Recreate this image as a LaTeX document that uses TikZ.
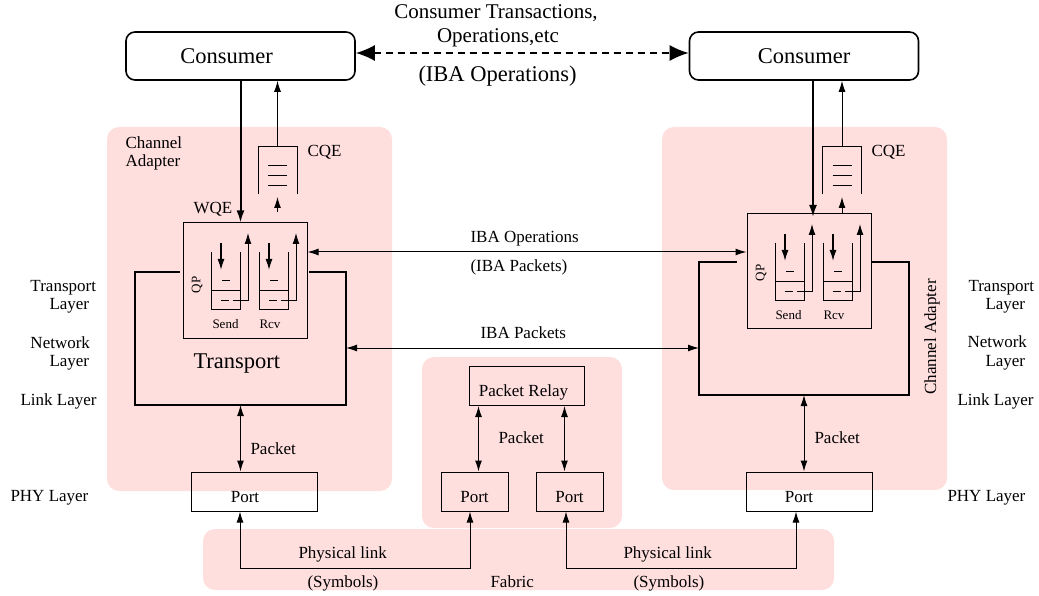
\documentclass[tikz,border=0pt]{standalone}
\usepackage{fontspec}
\setmainfont{Liberation Serif}
\usetikzlibrary{arrows.meta,calc,positioning}
\definecolor{pinkbg}{RGB}{255,222,222}
\tikzset{
    region/.style={
        fill=pinkbg,
        rounded corners=12pt,
    },
    consumer/.style={
        draw,
        rounded corners=9pt,
        line width=1.6pt,
        minimum width=229pt,
        minimum height=48pt,
        inner sep=0pt,
        font=\fontsize{22.5}{24}\selectfont,
    },
    toplbl/.style={inner sep=0pt, font=\fontsize{21}{22}\selectfont},
    big/.style={inner sep=0pt, font=\fontsize{22.5}{24}\selectfont},
    lbl/.style={inner sep=0pt, font=\fontsize{17}{18}\selectfont},
    small/.style={inner sep=0pt, font=\fontsize{13}{14}\selectfont},
    port/.style={
        draw,
        line width=1pt,
        inner sep=0pt,
        minimum width=126pt,
        minimum height=39pt,
        text height=21pt,
        text depth=0pt,
        font=\fontsize{17}{18}\selectfont,
    },
    qpbox/.style={draw, line width=1pt, inner sep=0pt, minimum width=124pt, minimum height=115pt},
    holder/.style={inner sep=0pt, outer sep=0pt},
    heavy/.style={line width=2pt, >={Latex[length=12pt,width=8pt]}},
    bigarrow/.style={
        {Latex[length=19pt,width=16pt]}-{Latex[length=19pt,width=16pt]},
        line width=1.8pt,
        dash pattern=on 7pt off 5pt,
    },
}

\begin{document}
\begin{tikzpicture}[x=1pt,y=-1pt,>={Latex[length=11pt,width=7pt]},line width=1pt]
    \useasboundingbox (0,0) rectangle (1039,596);
    % shaded areas
    \fill[region] (107,127) rectangle (392,491);
    \fill[region] (662,127) rectangle (947,490);
    \fill[region] (422,357) rectangle (622,528);
    \fill[region] (203,529) rectangle (834,590);

    % consumers
    \node[consumer] (consL) at (240.5,56) {Consumer\hspace*{28pt}};
    \node[consumer] (consR) at (804,56) {Consumer};
    \draw[bigarrow] ($(consL.east)+(0,-3)$) -- ($(consR.west)+(0,-3)$);
    \node[toplbl, anchor=base] (ctxt) at (496,19) {Consumer Transactions,};
    \node[toplbl, anchor=base] (otxt) at (498,43) {Operations,etc};
    \node[big, anchor=base west] (ibatxt) at (418,82) {(IBA Operations)};

    % left channel adapter
    \node[lbl, align=left, anchor=base west] (caL) at (125,167) {Channel\\Adapter};
    \node[qpbox] (qpL) at (245,280.5) {};
    \node[holder, minimum width=39pt, minimum height=47pt] (cqeL) at (277.5,170.5) {};
    \node[holder, minimum width=211pt, minimum height=133pt] (trL) at (240.5,338.5) {};
    \node[lbl, anchor=base west] (cqeLtxt) at (307,157) {CQE};
    \node[lbl, anchor=base west] (wqeL) at (193,214) {WQE};
    \node[small, rotate=90] (qpLtxt) at (197,285) {QP};
    \node[small, anchor=base west] (sendL) at (212,328) {Send};
    \node[small, anchor=base west] (rcvL) at (259,328) {Rcv};
    \node[big, anchor=base west] (trLtxt) at (193,368) {Transport};

    % right channel adapter
    \node[qpbox] (qpR) at (809,271) {};
    \node[holder, minimum width=39pt, minimum height=47pt] (cqeR) at (842,170.5) {};
    \node[holder, minimum width=210pt, minimum height=133pt] (trR) at (804,328.5) {};
    \node[lbl, anchor=base west] (cqeRtxt) at (871,157) {CQE};
    \node[small, rotate=90] (qpRtxt) at (761,273) {QP};
    \node[small, anchor=base west] (sendR) at (775,319) {Send};
    \node[small, anchor=base west] (rcvR) at (823,319) {Rcv};
    \node[lbl, rotate=90] (caR) at (932,337) {Channel Adapter};

    % completion queues
    \foreach \c in {cqeL,cqeR} {
        \draw (\c.south west) -- (\c.north west) -- (\c.north east) -- (\c.south east);
        \foreach \d in {-4.5,5.5,15.5}
            \draw ($(\c.center)+(-9.5,\d)$) -- ($(\c.center)+(9.5,\d)$);
    }

    % send and receive queues
    \foreach \x/\y in {211/309, 259/309, 775/300, 823/300} {
        \draw (\x,\y-57) -- (\x,\y) -- (\x+29,\y) -- (\x+29,\y-57);
        \draw (\x,\y-19) -- (\x+29,\y-19);
        \draw (\x+11,\y-29) -- (\x+19,\y-29);
        \draw (\x+10,\y-9) -- (\x+18,\y-9);
        \draw[->] (\x+22,\y-9) -- (\x+37,\y-9) -- (\x+37,\y-76);
        \draw[->, line width=1.4pt] (\x+10,\y-66) -- (\x+10,\y-39);
    }

    % transport frames
    \draw[line width=2pt] ($(qpL.west |- trL.north)+(-3,0)$) -- (trL.north west) -- (trL.south west)
        -- (trL.south east) -- (trL.north east) -- ($(qpL.east |- trL.north)+(1,0)$);
    \draw[line width=2pt] ($(qpR.west |- trR.north)+(-10,0)$) -- (trR.north west) -- (trR.south west)
        -- (trR.south east) -- (trR.north east) -- (qpR.east |- trR.north);

    % consumer to queue pairs
    \draw[heavy,->] (consL.south) -- (consL.south |- qpL.north);
    \draw[->] (cqeL.north) -- (cqeL.north |- consL.south);
    \draw[->] ($(cqeL.south |- qpL.north)+(0,-10)$) -- ($(cqeL.south)+(0,3)$);
    \draw[heavy,->] ($(consR.south)+(9,0)$) -- ($(consR.south |- qpR.north)+(9,4)$);
    \draw[->] (cqeR.north) -- (cqeR.north |- consR.south);
    \draw[->] (cqeR.south |- qpR.north) -- ($(cqeR.south)+(0,3)$);

    % between the adapters
    \coordinate (ops) at (524,252);
    \draw[<->] (qpL.east |- ops) -- (qpR.west |- ops);
    \node[lbl, anchor=base west] (opstxt) at (470,243) {IBA Operations};
    \node[lbl, anchor=base west] (pkttxt) at (470,271) {(IBA Packets)};
    \coordinate (pkts) at (522,348);
    \draw[<->] (trL.east |- pkts) -- (trR.west |- pkts);
    \node[lbl, anchor=base west] (pkttxt2) at (480,338) {IBA Packets};

    % ports and switch
    \node[port] (portL) at (254,491.5) {Port\hspace*{18pt}};
    \node[port, minimum width=67pt] (portML) at (474.5,491.5) {Port};
    \node[port, minimum width=67pt] (portMR) at (569.5,491.5) {Port};
    \node[port] (portR) at (809,491.5) {Port\hspace*{20pt}};
    \node[port, minimum width=115pt] (relay) at (526.5,386) {Packet Relay\hspace*{6pt}};

    \draw[<->] (trL.south) -- (trL.south |- portL.north);
    \node[lbl, anchor=base west] (pktL) at (250,454) {Packet};
    \draw[<->] (trR.south) -- (trR.south |- portR.north);
    \node[lbl, anchor=base west] (pktR) at (814,443) {Packet};
    \draw[<->] ($(relay.south west)+(10,0)$) -- ($(relay.south west |- portML.north)+(10,0)$);
    \draw[<->] ($(relay.south east)+(-20,0)$) -- ($(relay.south east |- portMR.north)+(-20,0)$);
    \node[lbl, anchor=base west] (pktM) at (498,443) {Packet};

    % fabric links
    \coordinate (linkA) at (240,568);
    \coordinate (linkB) at (470,568);
    \coordinate (linkC) at (566,568);
    \coordinate (linkD) at (796,568);
    \draw[<->] (linkA |- portL.south) -- (linkA) -- (linkB) -- (linkB |- portML.south);
    \draw[<->] (linkC |- portMR.south) -- (linkC) -- (linkD) -- (linkD |- portR.south);
    \node[lbl, anchor=base west] (physL) at (298,558) {Physical link};
    \node[lbl, anchor=base west] (physR) at (623,558) {Physical link};
    \node[lbl, anchor=base west] (symL) at (307,587) {(Symbols)};
    \node[lbl, anchor=base west] (symR) at (633,587) {(Symbols)};
    \node[lbl, anchor=base west] (fabric) at (490,587) {Fabric};

    % layer names
    \foreach \t/\x/\y [count=\i] in {Transport/30/291, Layer/49/309, Network/30/348, Layer/49/366,
        Link Layer/20/405, PHY Layer/10/501, Transport/968/291, Layer/985/309, Network/967/347,
        Layer/985/366, Link Layer/957/405, PHY Layer/947/501}
        \node[lbl, anchor=base west] (layer\i) at (\x,\y) {\t};
\end{tikzpicture}
\end{document}
